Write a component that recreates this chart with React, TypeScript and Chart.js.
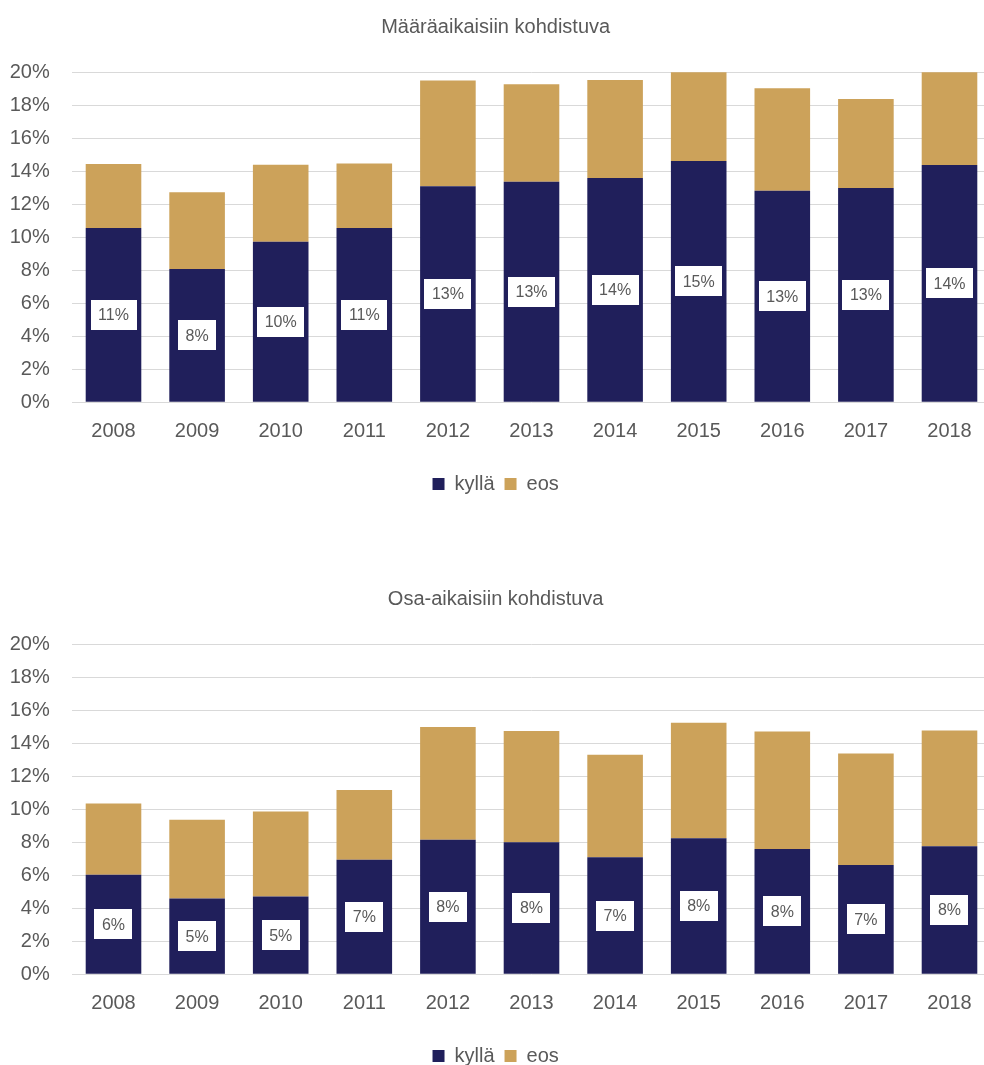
import React, { useEffect, useRef } from "react";
import { Chart, registerables } from "chart.js";

Chart.register(...registerables);

// ---- data ----
const years = ["2008", "2009", "2010", "2011", "2012", "2013", "2014", "2015", "2016", "2017", "2018"];
const seriesNames = ["kyllä", "eos"];

const topTitle = "Määräaikaisiin kohdistuva";
const topKylla = [10.56, 8.08, 9.73, 10.56, 13.09, 13.37, 13.6, 14.62, 12.82, 12.99, 14.38];
const topEos = [3.88, 4.65, 4.67, 3.92, 6.41, 5.9, 5.93, 5.6, 6.21, 5.39, 5.82];

const bottomTitle = "Osa-aikaisiin kohdistuva";
const bottomKylla = [6.04, 4.59, 4.71, 6.95, 8.16, 8.0, 7.09, 8.24, 7.6, 6.63, 7.76];
const bottomEos = [4.31, 4.77, 5.15, 4.22, 6.83, 6.75, 6.21, 7.01, 7.11, 6.75, 7.01];

const yMin = 0;
const yMax = 20;
const yStep = 2;

// ---- style ----
const FONT = "'Liberation Sans', Arial, sans-serif";
const TEXT = "#595959";
const NAVY = "#201f5b";
const GOLD = "#cca25a";
const GRID = "#d9d9d9";

const CANVAS_W = 1016;
const CANVAS_H = 572;

const barLabels = {
  id: "barLabels",
  afterDatasetsDraw(chart: any) {
    const meta = chart.getDatasetMeta(0);
    const values = chart.data.datasets[0].data as number[];
    const ctx = chart.ctx as CanvasRenderingContext2D;
    ctx.save();
    ctx.font = `16px ${FONT}`;
    ctx.textAlign = "center";
    ctx.textBaseline = "middle";
    meta.data.forEach((bar: any, i: number) => {
      const { x, y, base } = bar.getProps(["x", "y", "base"], true);
      const cy = (y + base) / 2;
      const text = Math.round(values[i]) + "%";
      const w = ctx.measureText(text).width + 15;
      const h = 30;
      ctx.fillStyle = "#ffffff";
      ctx.fillRect(Math.round(x - w / 2), Math.round(cy - h / 2), Math.round(w), h);
      ctx.fillStyle = TEXT;
      ctx.fillText(text, x, cy + 1);
    });
    ctx.restore();
  },
};

function StackedPanel({ title, kylla, eos, top }: { title: string; kylla: number[]; eos: number[]; top: number }) {
  const ref = useRef<HTMLCanvasElement | null>(null);
  useEffect(() => {
    if (!ref.current) return;
    const chart = new Chart(ref.current, {
      type: "bar",
      data: {
        labels: years,
        datasets: [
          { label: seriesNames[0], data: kylla, backgroundColor: NAVY, borderWidth: 0 },
          { label: seriesNames[1], data: eos, backgroundColor: GOLD, borderWidth: 0 },
        ],
      },
      options: {
        responsive: false,
        animation: false,
        devicePixelRatio: 1,
        layout: { padding: { left: 0, right: 24.7, top: 0, bottom: 68 } },
        datasets: { bar: { categoryPercentage: 1, barPercentage: 0.665 } },
        scales: {
          x: {
            stacked: true,
            grid: { display: false, drawTicks: false },
            border: { display: false },
            ticks: { color: TEXT, font: { family: FONT, size: 20 }, padding: 16.7 },
            afterFit(scale: any) {
              scale.height = 61.7;
            },
          },
          y: {
            stacked: true,
            min: yMin,
            max: yMax,
            grid: { color: GRID, lineWidth: 1, drawTicks: false },
            border: { display: false },
            ticks: {
              stepSize: yStep,
              color: TEXT,
              font: { family: FONT, size: 20 },
              padding: 22,
              callback: (v: any) => v + "%",
            },
            afterFit(scale: any) {
              scale.width = 71.7;
            },
          },
        },
        plugins: {
          title: {
            display: true,
            text: title,
            color: TEXT,
            font: { family: FONT, size: 20, weight: "normal" },
            padding: { top: 15, bottom: 33.3 },
          },
          legend: {
            display: true,
            position: "bottom",
            labels: {
              boxWidth: 12,
              boxHeight: 12,
              color: TEXT,
              font: { family: FONT, size: 20 },
              padding: 10,
            },
          },
          tooltip: { enabled: false },
        },
      },
      plugins: [barLabels],
    } as any);
    return () => chart.destroy();
  }, [title, kylla, eos]);
  return (
    <canvas
      ref={ref}
      width={CANVAS_W}
      height={CANVAS_H}
      style={{ position: "absolute", left: 0, top, width: CANVAS_W, height: CANVAS_H }}
    />
  );
}

export default function App() {
  return (
    <div
      style={{
        position: "fixed",
        left: 0,
        top: 0,
        width: 984,
        height: 1065,
        overflow: "hidden",
        background: "#ffffff",
      }}
    >
      <StackedPanel title={topTitle} kylla={topKylla} eos={topEos} top={0} />
      <StackedPanel title={bottomTitle} kylla={bottomKylla} eos={bottomEos} top={572} />
    </div>
  );
}
